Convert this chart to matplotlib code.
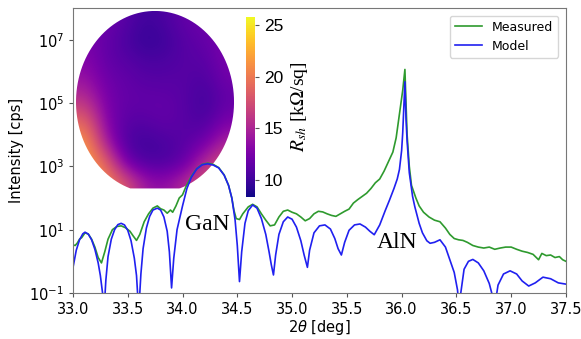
import numpy as np
import matplotlib
matplotlib.use("Agg")
import matplotlib.pyplot as plt
from matplotlib.path import Path
from matplotlib.patches import PathPatch

# 2theta [deg] and log10(intensity)
model_tth = [33.00, 33.03, 33.06, 33.09, 33.11, 33.14, 33.17, 33.20, 33.23, 33.25, 33.27, 33.28,
             33.29, 33.30, 33.32, 33.35, 33.38, 33.41, 33.44, 33.47, 33.50, 33.53, 33.56, 33.58, 33.60,
             33.61, 33.62, 33.64, 33.67, 33.70, 33.73, 33.77, 33.80, 33.83, 33.86, 33.88, 33.90,
             33.92, 33.95, 34.00, 34.04, 34.08, 34.13, 34.18, 34.23, 34.28, 34.33, 34.38, 34.42,
             34.45, 34.48, 34.50, 34.52,
             34.54, 34.57, 34.60, 34.64, 34.68, 34.72, 34.76, 34.79, 34.81, 34.83,
             34.85, 34.88, 34.92, 34.96, 35.00, 35.04, 35.08, 35.11, 35.14,
             35.16, 35.20, 35.25, 35.30, 35.35, 35.39, 35.42, 35.45,
             35.48, 35.52, 35.57, 35.62, 35.67, 35.71, 35.75,
             35.80, 35.85, 35.89, 35.93, 35.96, 35.98, 36.00, 36.01, 36.02, 36.03,
             36.04, 36.05, 36.07, 36.10, 36.12, 36.16, 36.19, 36.23, 36.26, 36.30, 36.35,
             36.40, 36.44, 36.48, 36.51, 36.52, 36.53, 36.54, 36.57, 36.61, 36.65, 36.70, 36.75,
             36.80, 36.83, 36.85, 36.86, 36.88, 36.93, 36.99, 37.05, 37.10, 37.16, 37.22, 37.29,
             37.36, 37.43, 37.50]
model_log = [-0.20, 0.35, 0.68, 0.87, 0.92, 0.86, 0.68, 0.38, -0.05, -0.45, -1.00, -1.60,
             -1.20, -0.60, 0.15, 0.70, 1.00, 1.16, 1.20, 1.15, 0.98, 0.65, 0.10, -0.45, -1.60,
             -1.00, -0.40, 0.40, 1.05, 1.42, 1.62, 1.68, 1.62, 1.40, 0.95, 0.30, -0.84,
             0.10, 1.00, 1.75, 2.30, 2.65, 2.92, 3.05, 3.08, 3.04, 2.95, 2.72, 2.40,
             2.00, 1.30, 0.50, -0.64,
             0.30, 1.20, 1.60, 1.78, 1.68, 1.35, 0.85, 0.30, -0.10, -0.43,
             0.20, 0.85, 1.25, 1.40, 1.33, 1.08, 0.65, 0.20, -0.19,
             0.35, 0.90, 1.12, 1.15, 1.02, 0.72, 0.40, 0.20,
             0.60, 0.98, 1.15, 1.18, 1.08, 0.95, 0.84,
             1.15, 1.60, 1.94, 2.30, 2.60, 2.90, 3.50, 4.06, 4.90, 5.67,
             4.50, 3.80, 2.80, 2.05, 1.73, 1.20, 0.90, 0.65, 0.57, 0.60, 0.68,
             0.45, 0.05, -0.35, -0.90, -1.30, -1.60, -1.00, -0.25, 0.00, 0.06, -0.05, -0.30,
             -0.70, -1.10, -1.60, -1.20, -0.75, -0.40, -0.30, -0.40, -0.62, -0.78, -0.68, -0.50,
             -0.55, -0.68, -0.72]

meas_tth = [33.00, 33.02, 33.04, 33.06, 33.08, 33.11, 33.14, 33.17, 33.20, 33.23, 33.26,
            33.29, 33.32, 33.36, 33.40, 33.44, 33.48, 33.52, 33.55, 33.58, 33.61, 33.65,
            33.69, 33.73, 33.77, 33.80, 33.83, 33.86, 33.89, 33.91, 33.94, 33.97, 34.00,
            34.03, 34.08, 34.13, 34.18, 34.23, 34.28, 34.33, 34.38, 34.42, 34.45, 34.47,
            34.49, 34.52, 34.55, 34.60, 34.64, 34.68, 34.72, 34.76, 34.80, 34.84, 34.88,
            34.92, 34.96, 35.00, 35.04, 35.08, 35.12, 35.16, 35.20, 35.24, 35.28, 35.32,
            35.36, 35.40, 35.44, 35.48, 35.52, 35.56, 35.60, 35.64, 35.68, 35.72, 35.76,
            35.80, 35.84, 35.88, 35.92, 35.95, 35.97, 35.99, 36.01, 36.03, 36.04, 36.05,
            36.07, 36.09, 36.11, 36.13, 36.16, 36.20, 36.25, 36.30, 36.35, 36.40, 36.44,
            36.48, 36.52, 36.56, 36.60, 36.65, 36.70, 36.75, 36.80, 36.85, 36.90, 36.95,
            37.00, 37.05, 37.10, 37.15, 37.20, 37.25, 37.28, 37.32, 37.36, 37.40, 37.44,
            37.47, 37.50]
meas_log = [0.52, 0.50, 0.58, 0.70, 0.75, 0.90, 0.86, 0.70, 0.45, 0.12, -0.05,
            0.30, 0.70, 1.00, 1.10, 1.12, 1.06, 0.95, 0.80, 0.66, 0.85, 1.25,
            1.50, 1.68, 1.75, 1.66, 1.62, 1.52, 1.62, 1.55, 1.75, 2.00, 2.10,
            2.35, 2.68, 2.93, 3.06, 3.10, 3.06, 2.96, 2.73, 2.40, 2.00, 1.60,
            1.35, 1.32, 1.50, 1.72, 1.80, 1.72, 1.50, 1.30, 1.12, 1.15, 1.40,
            1.58, 1.62, 1.55, 1.50, 1.40, 1.28, 1.35, 1.50, 1.58, 1.56, 1.50,
            1.45, 1.42, 1.50, 1.58, 1.65, 1.84, 1.95, 2.05, 2.15, 2.30, 2.48,
            2.60, 2.85, 3.15, 3.45, 3.90, 4.40, 4.90, 5.40, 6.06, 5.00, 4.00,
            3.00, 2.40, 2.20, 2.00, 1.75, 1.55, 1.40, 1.30, 1.25, 1.05, 0.85,
            0.72, 0.68, 0.66, 0.60, 0.50, 0.45, 0.42, 0.45, 0.38, 0.42, 0.45,
            0.45, 0.38, 0.32, 0.28, 0.22, 0.05, 0.25, 0.18, 0.20, 0.12, 0.15,
            0.05, 0.00]

# sheet resistance map [kOhm/sq], rows top -> bottom
rsh_map = [
    [12.5, 12.0, 11.0, 10.0, 10.5, 11.5, 12.0, 12.5],
    [12.5, 11.5, 10.5,  9.5, 10.0, 11.0, 11.5, 12.5],
    [13.0, 11.5, 11.0, 10.5, 10.5, 11.0, 11.0, 12.5],
    [14.0, 12.0, 11.5, 11.0, 11.0, 11.0, 10.5, 12.0],
    [16.0, 12.5, 11.5, 11.5, 11.5, 11.0, 10.0, 11.5],
    [19.0, 13.0, 11.0, 11.0, 11.5, 11.0, 10.5, 12.5],
    [21.5, 14.5, 10.5, 10.0, 10.5, 11.0, 12.0, 15.0],
    [22.0, 19.0, 12.0, 10.5, 10.5, 11.5, 15.5, 17.5],
    [22.0, 21.0, 18.0, 14.0, 13.5, 15.5, 18.0, 18.0],
]
cbar_ticks = [10, 15, 20, 25]

plt.rcParams['mathtext.fontset'] = 'dejavusans'
fig = plt.figure(figsize=(5.81, 3.39), dpi=100)
ax = fig.add_axes([0.1256, 0.1357, 0.8485, 0.8407])

# wafer map inset (drawn under the curves)
wax = fig.add_axes([0.1308, 0.4307, 0.272, 0.537])
im = wax.imshow(rsh_map, cmap='plasma', vmin=8.3, vmax=25.8, extent=(-1, 1, -1, 1),
                interpolation='bicubic', aspect='auto')
t = np.linspace(0, 2 * np.pi, 400)
pts = np.column_stack([np.cos(t), np.sin(t)])
pts[:, 1] = np.maximum(pts[:, 1], -0.95)
clip = PathPatch(Path(pts), transform=wax.transData, facecolor='none', edgecolor='none')
wax.add_patch(clip)
im.set_clip_path(clip)
wax.set_xlim(-1, 1)
wax.set_ylim(-1, 1)
wax.axis('off')
wax.set_zorder(1)
ax.set_zorder(2)
ax.patch.set_visible(False)

ax.plot(meas_tth, 10 ** np.array(meas_log), color='#2e9a2e', lw=1.2, label='Measured')
ax.plot(model_tth, 10 ** np.array(model_log), color='#2020f0', lw=1.2, label='Model')
ax.set_yscale('log')
ax.set_xlim(33.0, 37.5)
ax.set_ylim(1e-1, 1e8)
ax.set_xticks(np.arange(33.0, 37.51, 0.5))
ax.set_yticks([1e-1, 1e1, 1e3, 1e5, 1e7])
ax.minorticks_off()
ax.tick_params(labelsize=10.5, color='#555555', length=3)
for s in ax.spines.values():
    s.set_color('#777777')
ax.set_xlabel(r'2$\theta$ [deg]', fontsize=10.5, labelpad=1)
ax.set_ylabel('Intensity [cps]', fontsize=10.5)
ax.legend(loc='upper right', fontsize=9, handlelength=2.2, borderaxespad=0.6)

ax.text(34.23, 15, 'GaN', family='Liberation Serif', fontsize=17, ha='center', va='center')
ax.text(35.96, 3.8, 'AlN', family='Liberation Serif', fontsize=17, ha='center', va='center')

cax = fig.add_axes([0.4234, 0.4189, 0.0155, 0.531])
cax.set_zorder(3)
cb = fig.colorbar(im, cax=cax, ticks=cbar_ticks)
cb.outline.set_visible(False)
cb.ax.tick_params(labelsize=12.5, length=3, color='#555555')
for lab in cb.ax.get_yticklabels():
    lab.set_family('Liberation Sans')
cb.set_label(r'$R_{sh}$ [k$\Omega$/sq]', family='Liberation Serif', fontsize=14, labelpad=4)
cb.ax.yaxis.label.set_math_fontfamily('stix')

fig.savefig('out.png', dpi=100)
